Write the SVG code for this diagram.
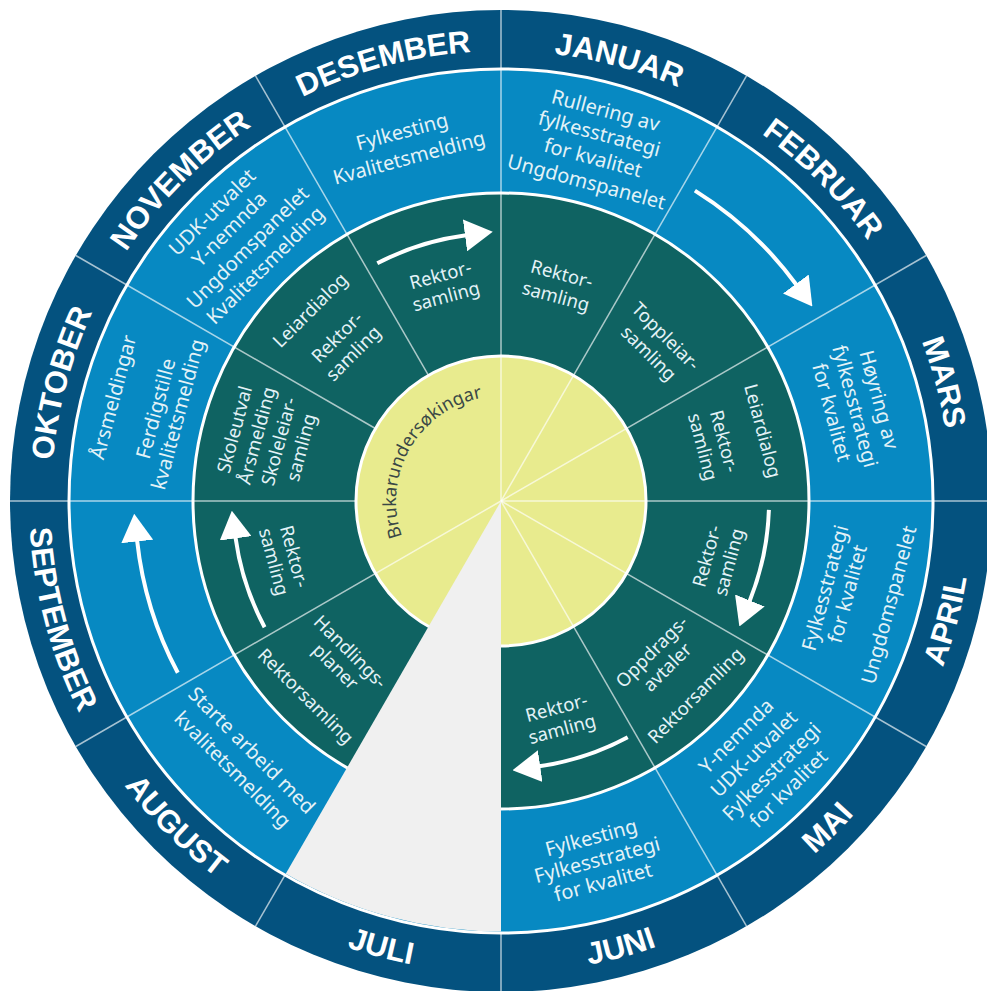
<svg xmlns="http://www.w3.org/2000/svg" width="987" height="991" viewBox="0 0 987 991">
<style>
.mon{font-family:"Liberation Sans",Arial,sans-serif;font-weight:700;font-size:31px;fill:#fff;text-anchor:middle}
.t{font-family:"Noto Sans","Open Sans",sans-serif;font-size:20px;fill:#e3f2f7;text-anchor:middle;dominant-baseline:central}
.g{font-size:18.5px}
.rad{stroke:#fff;stroke-opacity:0.65;stroke-width:1.5}
.ring{stroke:#fff;stroke-width:3}
.arr{fill:none;stroke:#fff;stroke-width:4;marker-end:url(#ah)}
.yt{font-family:"Noto Sans","Open Sans",sans-serif;font-size:18px;fill:#3a4846;text-anchor:middle}
</style>
<defs>
<marker id="ah" markerUnits="userSpaceOnUse" markerWidth="28" markerHeight="32" viewBox="0 0 28 32" refX="1" refY="16" orient="auto"><path d="M0,0 L28,16 L0,32 Z" fill="#fff"/></marker>
<path id="pOKT" d="M51,501 A450,450 0 0 1 111.3,276"/>
<path id="pNOV" d="M111.3,276 A450,450 0 0 1 276,111.3"/>
<path id="pDES" d="M276,111.3 A450,450 0 0 1 501,51"/>
<path id="pJAN" d="M501,51 A450,450 0 0 1 726,111.3"/>
<path id="pFEB" d="M726,111.3 A450,450 0 0 1 890.7,276"/>
<path id="pMAR" d="M890.7,276 A450,450 0 0 1 951,501"/>
<path id="pAPR" d="M909.8,737 A472,472 0 0 0 973,501"/>
<path id="pMAI" d="M737,909.8 A472,472 0 0 0 909.8,737"/>
<path id="pJUN" d="M501,973 A472,472 0 0 0 737,909.8"/>
<path id="pJUL" d="M265,909.8 A472,472 0 0 0 501,973"/>
<path id="pAUG" d="M92.2,737 A472,472 0 0 0 265,909.8"/>
<path id="pSEP" d="M29,501 A472,472 0 0 0 92.2,737"/>
<path id="pBRU" d="M410.1,553.5 A105,105 0 0 1 501,396"/>
</defs>
<rect width="987" height="991" fill="#fff"/>
<g id="wheel">
<circle cx="501" cy="501" r="491" fill="#04527f"/>
<circle cx="501" cy="501" r="432" fill="#0789c2" class="ring"/>
<circle cx="501" cy="501" r="308" fill="#0f6362" class="ring"/>
<circle cx="501" cy="501" r="145" fill="#e8eb8e" class="ring"/>
</g>
<g id="dividers" class="rad">
<line x1="501" y1="501" x2="501" y2="10"/>
<line x1="501" y1="501" x2="746.5" y2="75.8"/>
<line x1="501" y1="501" x2="926.2" y2="255.5"/>
<line x1="501" y1="501" x2="992" y2="501"/>
<line x1="501" y1="501" x2="926.2" y2="746.5"/>
<line x1="501" y1="501" x2="746.5" y2="926.2"/>
<line x1="501" y1="501" x2="75.8" y2="746.5"/>
<line x1="356" y1="501" x2="10" y2="501"/>
<line x1="375.4" y1="428.5" x2="75.8" y2="255.5"/>
<line x1="428.5" y1="375.4" x2="255.5" y2="75.8"/>
<line x1="501" y1="933" x2="501" y2="992"/>
<line x1="285" y1="875.1" x2="255.5" y2="926.2"/>
</g>
<path id="juli-wedge" d="M501,501 L501,931.5 A430.5,430.5 0 0 1 285.75,873.8 Z" fill="#f0f0f0"/>

<g id="months">
<text class="mon"><textPath href="#pJAN" startOffset="50%">JANUAR</textPath></text>
<text class="mon"><textPath href="#pFEB" startOffset="50%">FEBRUAR</textPath></text>
<text class="mon"><textPath href="#pMAR" startOffset="50%">MARS</textPath></text>
<text class="mon"><textPath href="#pAPR" startOffset="50%">APRIL</textPath></text>
<text class="mon"><textPath href="#pMAI" startOffset="50%">MAI</textPath></text>
<text class="mon"><textPath href="#pJUN" startOffset="50%">JUNI</textPath></text>
<text class="mon"><textPath href="#pJUL" startOffset="50%">JULI</textPath></text>
<text class="mon"><textPath href="#pAUG" startOffset="50%">AUGUST</textPath></text>
<text class="mon"><textPath href="#pSEP" startOffset="50%">SEPTEMBER</textPath></text>
<text class="mon"><textPath href="#pOKT" startOffset="50%">OKTOBER</textPath></text>
<text class="mon"><textPath href="#pNOV" startOffset="50%">NOVEMBER</textPath></text>
<text class="mon"><textPath href="#pDES" startOffset="50%">DESEMBER</textPath></text>
</g>

<g id="blue-jan" transform="translate(501 501) rotate(15)"><text class="t" y="-405">Rullering av</text><text class="t" y="-381">fylkesstrategi</text><text class="t" y="-356">for kvalitet</text><text class="t" y="-331">Ungdomspanelet</text></g>
<g id="blue-mar" transform="translate(501 501) rotate(75)"><text class="t" y="-392">Høyring av</text><text class="t" y="-367">fylkesstrategi</text><text class="t" y="-343">for kvalitet</text></g>
<g id="blue-apr" transform="translate(501 501) rotate(-75)"><text class="t" y="335">Fylkesstrategi</text><text class="t" y="358">for kvalitet</text><text class="t" y="401">Ungdomspanelet</text></g>
<g id="blue-mai" transform="translate(501 501) rotate(-45)"><text class="t" y="332">Y-nemnda</text><text class="t" y="357">UDK-utvalet</text><text class="t" y="382">Fylkesstrategi</text><text class="t" y="406">for kvalitet</text></g>
<g id="blue-jun" transform="translate(501 501) rotate(-15)"><text class="t" y="348">Fylkesting</text><text class="t" y="371">Fylkesstrategi</text><text class="t" y="394">for kvalitet</text></g>
<g id="blue-aug" transform="translate(501 501) rotate(45)"><text class="t" y="352">Starte arbeid med</text><text class="t" y="379">kvalitetsmelding</text></g>
<g id="blue-okt" transform="translate(501 501) rotate(-75)"><text class="t" y="-402">Årsmeldingar</text><text class="t" y="-358">Ferdigstille</text><text class="t" y="-335">kvalitetsmelding</text></g>
<g id="blue-nov" transform="translate(501 501) rotate(-45)"><text class="t" y="-409">UDK-utvalet</text><text class="t" y="-385">Y-nemnda</text><text class="t" y="-359">Ungdomspanelet</text><text class="t" y="-334">Kvalitetsmelding</text></g>
<g id="blue-des" transform="translate(501 501) rotate(-15)"><text class="t" y="-383">Fylkesting</text><text class="t" y="-356">Kvalitetsmelding</text></g>

<g id="green-des" transform="translate(501 501) rotate(-15)"><text class="t g" y="-235">Rektor-</text><text class="t g" y="-213">samling</text></g>
<g id="green-nov" transform="translate(501 501) rotate(-45)"><text class="t g" y="-271">Leiardialog</text><text class="t g" y="-233">Rektor-</text><text class="t g" y="-210">samling</text></g>
<g id="green-okt" transform="translate(501 501) rotate(-75)"><text class="t g" y="-277">Skoleutval</text><text class="t g" y="-254">Årsmelding</text><text class="t g" y="-231">Skoleleiar-</text><text class="t g" y="-208">samling</text></g>
<g id="green-jan" transform="translate(501 501) rotate(15)"><text class="t g" y="-236">Rektor-</text><text class="t g" y="-213">samling</text></g>
<g id="green-feb" transform="translate(501 501) rotate(45)"><text class="t g" y="-234">Toppleiar-</text><text class="t g" y="-210">samling</text></g>
<g id="green-mar" transform="translate(501 501) rotate(75)"><text class="t g" y="-272">Leiardialog</text><text class="t g" y="-232">Rektor-</text><text class="t g" y="-210">samling</text></g>
<g id="green-apr" transform="translate(501 501) rotate(-75)"><text class="t g" y="212">Rektor-</text><text class="t g" y="235">samling</text></g>
<g id="green-mai" transform="translate(501 501) rotate(-45)"><text class="t g" y="212">Oppdrags-</text><text class="t g" y="234">avtaler</text><text class="t g" y="274">Rektorsamling</text></g>
<g id="green-jun" transform="translate(501 501) rotate(-15)"><text class="t g" y="213">Rektor-</text><text class="t g" y="235">samling</text></g>
<g id="green-aug" transform="translate(501 501) rotate(45)"><text class="t g" y="212">Handlings-</text><text class="t g" y="233">planer</text><text class="t g" y="275">Rektorsamling</text></g>
<g id="green-sep" transform="translate(501 501) rotate(75)"><text class="t g" y="213">Rektor-</text><text class="t g" y="234">samling</text></g>

<g id="centre"><text class="yt"><textPath href="#pBRU" startOffset="50%">Brukarundersøkingar</textPath></text></g>

<g id="connectors">
<path class="arr" d="M694.9,190.6 A366,366 0 0 1 796.4,284.8"/>
<path class="arr" d="M177.8,672.8 A366,366 0 0 1 137.1,540.5"/>
<path class="arr" d="M377.3,263.3 A268,268 0 0 1 466,235.3"/>
<path class="arr" d="M768.9,509.9 A268,268 0 0 1 749.5,601.4"/>
<path class="arr" d="M627.7,737.2 A268,268 0 0 1 539.2,766.3"/>
<path class="arr" d="M264.6,627.2 A268,268 0 0 1 235.5,537.4"/>
</g>
</svg>
